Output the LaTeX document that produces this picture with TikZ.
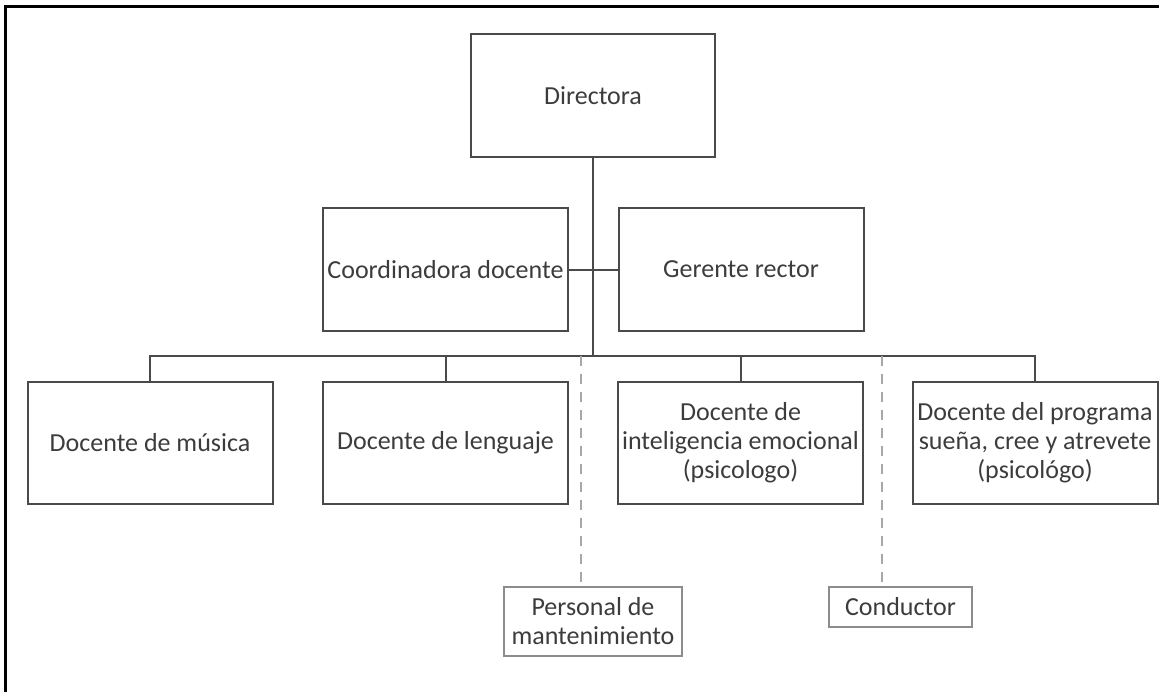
\documentclass[tikz,border=0pt]{standalone}
\usepackage{fontspec}
\setmainfont{Carlito}
\usetikzlibrary{positioning,calc}
\definecolor{boxColor}{HTML}{4A4A4A}
\definecolor{txtColor}{HTML}{3C3C3C}
\definecolor{apoyoColor}{HTML}{8C8C8C}
\definecolor{dashColor}{HTML}{A8A8A8}
\tikzset{
	cargo/.style={draw=boxColor, line width=1pt, minimum width=122.5pt, minimum height=61pt,
		inner sep=1pt, align=center, text=txtColor, font=\fontsize{13}{14.5}\selectfont},
	apoyo/.style={draw=apoyoColor, line width=0.6pt, inner sep=2pt, align=center,
		text=txtColor, font=\fontsize{13}{14.5}\selectfont},
	linea/.style={draw=boxColor, line width=1pt},
	punteado/.style={draw=dashColor, line width=0.6pt, dash pattern=on 5pt off 4pt}
}
\begin{document}
\begin{tikzpicture}[x=0.5pt, y=-0.5pt]
	\useasboundingbox (0,0) rectangle (1159,692);
	\draw[line width=1.5pt] (5,692) -- (5,6) -- (1159,6);
	\node[cargo, minimum width=122pt, minimum height=61.5pt] (dir) at (593, 95.5) {Directora};
	\node[cargo, minimum height=61.5pt] (coord) at (445.5, 269.5) {Coordinadora docente};
	\node[cargo, minimum height=61.5pt] (ger) at (741, 269.5) {Gerente rector};
	\node[cargo] (musica) at (150, 443) {Docente de música};
	\node[cargo] (lenguaje) at (445.5, 443) {Docente de lenguaje};
	\node[cargo] (emocional) at (740.5, 443) {Docente de\\ inteligencia emocional\\ (psicologo)};
	\node[cargo] (programa) at (1035, 443) {Docente del programa\\ sueña, cree y atrevete\\ (psicológo)};
	\node[apoyo, minimum width=89pt, minimum height=34.5pt] (mant) at (593, 621.5) {Personal de\\ mantenimiento};
	\node[apoyo, minimum width=71.5pt, minimum height=20pt] (cond) at (900.5, 607) {Conductor};
	\coordinate (bus) at (593, 356);
	\coordinate (d1) at (581, 356);
	\coordinate (d2) at (882, 356);
	\path[linea] (dir) -- (bus);
	\path[linea] (coord) -- (ger);
	\path[linea] (musica.north) |- (bus) -| (programa.north);
	\path[linea] (lenguaje.north) -- (lenguaje.north |- bus);
	\path[linea] (emocional.north) -- (emocional.north |- bus);
	\path[punteado] (d1) -- (d1 |- mant.north);
	\path[punteado] (d2) -- (d2 |- cond.north);
\end{tikzpicture}
\end{document}
